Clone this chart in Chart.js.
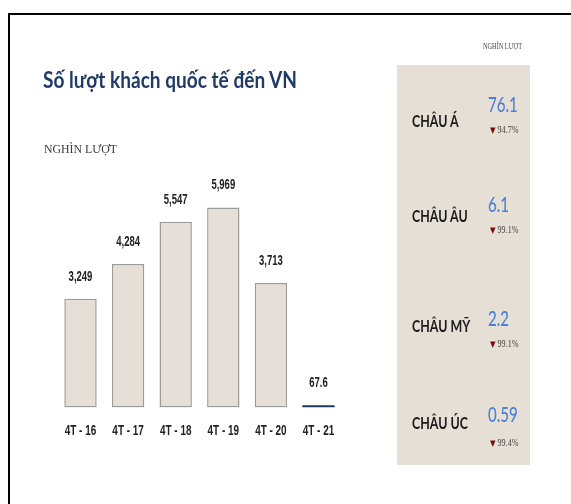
<!DOCTYPE html>
<html>
<head>
<meta charset="utf-8">
<script src="https://cdn.jsdelivr.net/npm/chart.js@4.4.1/dist/chart.umd.min.js"></script>
<style>
  html, body { margin:0; padding:0; background:#fff; }
  #wrap { position:relative; width:571px; height:504px; overflow:hidden; background:#fff; }
  #frame { position:absolute; left:8px; top:13px; right:-10px; bottom:-10px; border-top:2px solid #000; border-left:2px solid #000; }
  #panel { position:absolute; left:397px; top:65px; width:133px; height:400px; background:#e5dfd6; }
  .t { position:absolute; white-space:nowrap; transform-origin:0 50%; }
  canvas { position:absolute; left:0; top:0; }
</style>
</head>
<body>
<div id="wrap">
  <div id="frame"></div>
  <div id="panel"></div>
  <canvas id="c" width="571" height="504"></canvas>
</div>
<script>
// ---- data ----
const titleText = 'Số lượt khách quốc tế đến VN';
const unitText = 'NGHÌN LƯỢT';
const categories = ['4T - 16', '4T - 17', '4T - 18', '4T - 19', '4T - 20', '4T - 21'];
const visitors = [3249, 4284, 5547, 5969, 3713, 67.6];
const regions = ['CHÂU Á', 'CHÂU ÂU', 'CHÂU MỸ', 'CHÂU ÚC'];
const regionValues = [76.1, 6.1, 2.2, 0.59];
const regionDrops = [94.7, 99.1, 99.1, 99.4];

// ---- text helpers ----
const wrap = document.getElementById('wrap');
function addText(txt, opt) {
  const d = document.createElement('div');
  d.className = 't';
  d.textContent = txt;
  d.style.font = opt.font;
  d.style.color = opt.color;
  d.style.lineHeight = '40px';
  d.style.left = opt.left + 'px';
  d.style.top = (opt.cy - 20) + 'px';
  wrap.appendChild(d);
  let s = opt.scale || 1;
  if (opt.width) s = opt.width / d.getBoundingClientRect().width;
  d.style.transform = 'scaleX(' + s + ')';
  return d;
}

addText(titleText, { font: '700 23px Lato', color: '#1f3a66', left: 43, cy: 79, width: 254 });
addText(unitText, { font: '13.5px "Liberation Serif"', color: '#3a3a3a', left: 44, cy: 149, width: 73 });
addText(unitText, { font: '8.5px "Liberation Serif"', color: '#444', left: 483, cy: 46, width: 39 });

const rowLabelY = [121, 216, 326, 423];
const rowValueY = [104, 204, 318, 414];
const rowDropY = [130, 230, 344, 443];
regions.forEach((r, i) => {
  addText(r, { font: '700 17.5px Lato', color: '#1b1b1b', left: 411.5, cy: rowLabelY[i], scale: 0.71 });
  addText(String(regionValues[i]), { font: '500 21px Lato', color: '#4d7fd4', left: 488, cy: rowValueY[i], scale: 0.72 });
  const d = addText('', { font: '9.5px "Liberation Serif"', color: '#444', left: 490, cy: rowDropY[i], scale: 0.85 });
  const tri = document.createElement('span');
  tri.textContent = '▼';
  tri.style.color = '#7a0b0b';
  tri.style.fontFamily = '"DejaVu Sans"';
  tri.style.fontSize = '8.5px';
  d.appendChild(tri);
  d.appendChild(document.createTextNode(' ' + regionDrops[i].toFixed(1) + '%'));
});

// ---- chart ----
const labelFont = 'bold 14px "Liberation Sans", Arial, sans-serif';
const textPlugin = {
  id: 'textPlugin',
  afterDatasetsDraw(chart) {
    const ctx = chart.ctx;
    const meta = chart.getDatasetMeta(0);
    const xs = chart.scales.x;
    ctx.save();
    ctx.font = labelFont;
    ctx.fillStyle = '#222';
    ctx.textAlign = 'center';
    ctx.textBaseline = 'middle';
    meta.data.forEach((bar, i) => {
      const v = visitors[i];
      const txt = v >= 1000 ? v.toLocaleString('en-US') : String(v);
      ctx.save();
      ctx.translate(bar.x, bar.y - 22);
      ctx.scale(0.68, 1);
      ctx.fillText(txt, 0, 0);
      ctx.restore();
    });
    // category labels at the x scale tick positions
    chart.data.labels.forEach((lab, i) => {
      ctx.save();
      ctx.translate(xs.getPixelForTick(i), chart.chartArea.bottom + 24);
      ctx.scale(0.71, 1);
      ctx.fillText(lab, 0, 0);
      ctx.restore();
    });
    ctx.restore();
  }
};

new Chart(document.getElementById('c'), {
  type: 'bar',
  data: {
    labels: categories,
    datasets: [{
      data: visitors,
      backgroundColor: visitors.map((v, i) => i === visitors.length - 1 ? '#1f3864' : '#e5dfd7'),
      borderColor: visitors.map((v, i) => i === visitors.length - 1 ? '#1f3864' : '#9b9b9b'),
      borderWidth: visitors.map((v, i) => i === visitors.length - 1 ? 0 : 1.5),
      borderSkipped: false,
      categoryPercentage: 1,
      barPercentage: 0.68
    }]
  },
  options: {
    responsive: false,
    animation: false,
    events: [],
    layout: { padding: { left: 56.7, right: 228.7, top: 173, bottom: 96.5 } },
    plugins: { legend: { display: false }, tooltip: { enabled: false } },
    scales: {
      x: { display: false },
      y: { display: false, min: 0, max: 7000 }
    }
  },
  plugins: [textPlugin]
});
</script>
</body>
</html>
